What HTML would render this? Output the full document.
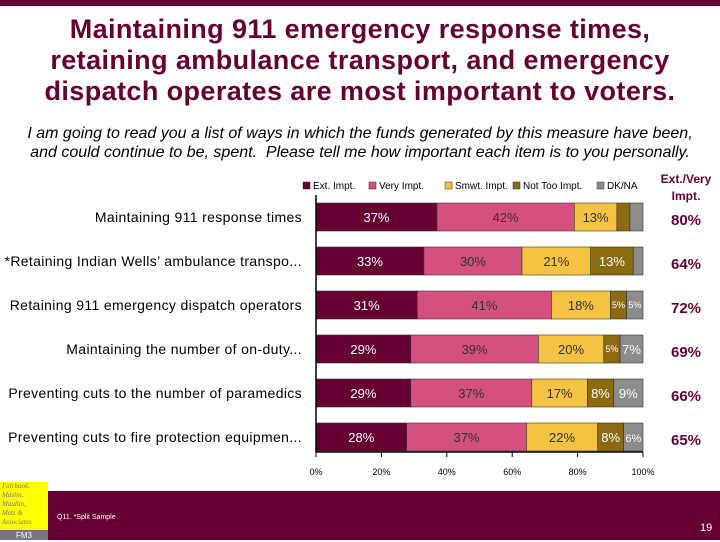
<!DOCTYPE html>
<html><head><meta charset="utf-8"><style>
body{margin:0;width:720px;height:540px;overflow:hidden;background:#fff;font-family:"Liberation Sans",sans-serif;position:relative}
.abs{position:absolute}
</style></head><body>
<div class="abs" style="left:0;top:0;width:720px;height:6px;background:#660033"></div>
<div class="abs" style="left:0;top:14px;width:720px;text-align:center;font-size:27px;font-weight:bold;color:#660033;line-height:31px;letter-spacing:0.4px">Maintaining 911 emergency response times,<br>retaining ambulance transport, and emergency<br>dispatch operates are most important to voters.</div>
<div class="abs" style="left:0;top:124px;width:720px;text-align:center;font-size:16px;font-style:italic;color:#000;line-height:19px">I am going to read you a list of ways in which the funds generated by this measure have been,<br>and could continue to be, spent.&nbsp; Please tell me how important each item is to you personally.</div>
<svg class="abs" style="left:0;top:0" width="720" height="540" id="chart"></svg>
<div class="abs" style="left:0;top:491px;width:720px;height:49px;background:#660033"></div>
<div class="abs" style="left:0;top:482px;width:48px;height:48px;background:#ffff00;font-family:'Liberation Serif',serif;font-style:italic;font-size:7px;color:#777;line-height:9px;padding-left:2px;box-sizing:border-box">Fairbank,<br>Maslin,<br>Maullin,<br>Metz &amp;<br>Associates</div>
<div class="abs" style="left:0;top:530px;width:48px;height:10px;background:#777;color:#fff;font-size:8px;text-align:center;line-height:12px">FM3</div>
<div class="abs" style="left:57px;top:514px;font-size:7px;color:#fff">Q11. *Split Sample</div>
<div class="abs" style="left:700px;top:522px;font-size:11px;color:#fff">19</div>
<script>
const categories=["Maintaining 911 response times","*Retaining Indian Wells’ ambulance transpo...","Retaining 911 emergency dispatch operators","Maintaining the number of on-duty...","Preventing cuts to the number of paramedics","Preventing cuts to fire protection equipmen..."];
const seriesNames=["Ext. Impt.","Very Impt.","Smwt. Impt.","Not Too Impt.","DK/NA"];
const extImpt=[37,33,31,29,29,28];
const veryImpt=[42,30,41,39,37,37];
const smwtImpt=[13,21,18,20,17,22];
const notTooImpt=[4,13,5,5,8,8];
const dkna=[4,3,5,7,9,6];
const totals=["80%","64%","72%","69%","66%","65%"];
const ticks=[0,20,40,60,80,100];
const colors=["#660033","#d4507f","#f5c342","#8b6a10","#8c8c8c"];
const txtCol=["#fff","#333","#333","#fff","#fff"];
const svg=document.getElementById('chart');const NS='http://www.w3.org/2000/svg';
const x0=316,x1=643,rowY0=217,rowH=44,barH=28;
const xs=v=>x0+(x1-x0)*v/100, ys=i=>rowY0+i*rowH;
function mk(t,a,txt){const e=document.createElementNS(NS,t);for(const k in a)e.setAttribute(k,a[k]);if(txt!=null)e.textContent=txt;svg.appendChild(e);return e;}
const series=[extImpt,veryImpt,smwtImpt,notTooImpt,dkna];
categories.forEach((c,i)=>{
 const l=mk('text',{x:302,y:ys(i)+5,'text-anchor':'end','font-size':14,'letter-spacing':0.35,fill:'#000'},c);
 
 const sum=series.reduce((a,s)=>a+s[i],0);
 let acc=0;
 series.forEach((s,j)=>{
  const v=s[i];
  const a0=acc*100/sum,a1=(acc+v)*100/sum;
  const r=mk('rect',{x:xs(a0),y:ys(i)-barH/2,width:xs(a1)-xs(a0),height:barH,fill:colors[j],stroke:'#333','stroke-width':0.6});
  
  if(v>=5){
   const fs=v<=5?9:(v==6?11:13);
   const t=mk('text',{x:(xs(a0)+xs(a1))/2,y:ys(i)+(fs>10?5:3),'text-anchor':'middle','font-size':fs,fill:txtCol[j]},v+'%');
   
  }
  acc+=v;
 });
 const tt=mk('text',{x:686,y:ys(i)+8,'text-anchor':'middle','font-size':15,'font-weight':'bold',fill:'#660033'},totals[i]);
 
});
const ax=mk('line',{x1:x0,y1:195,x2:x0,y2:452,stroke:'#000','stroke-width':1.5});

const bx=mk('line',{x1:x0,y1:452,x2:x1,y2:452,stroke:'#000','stroke-width':1.5});

ticks.forEach(t=>{
 mk('line',{x1:xs(t),y1:452,x2:xs(t),y2:457,stroke:'#000'});
 const e=mk('text',{x:xs(t),y:475,'text-anchor':'middle','font-size':9,fill:'#000'},t+'%');
 
});
const lx=[303,369,445,513,597];
seriesNames.forEach((n,j)=>{
 const r=mk('rect',{x:lx[j],y:182,width:7,height:7,fill:colors[j],stroke:'#333','stroke-width':0.5});
 
 const t=mk('text',{x:lx[j]+10,y:189,'font-size':10,fill:'#000'},n);
 
});
const h1=mk('text',{x:686,y:183,'text-anchor':'middle','font-size':12,'font-weight':'bold',fill:'#660033'},'Ext./Very');

const h2=mk('text',{x:686,y:200,'text-anchor':'middle','font-size':12,'font-weight':'bold',fill:'#660033'},'Impt.');

</script>
</body></html>
